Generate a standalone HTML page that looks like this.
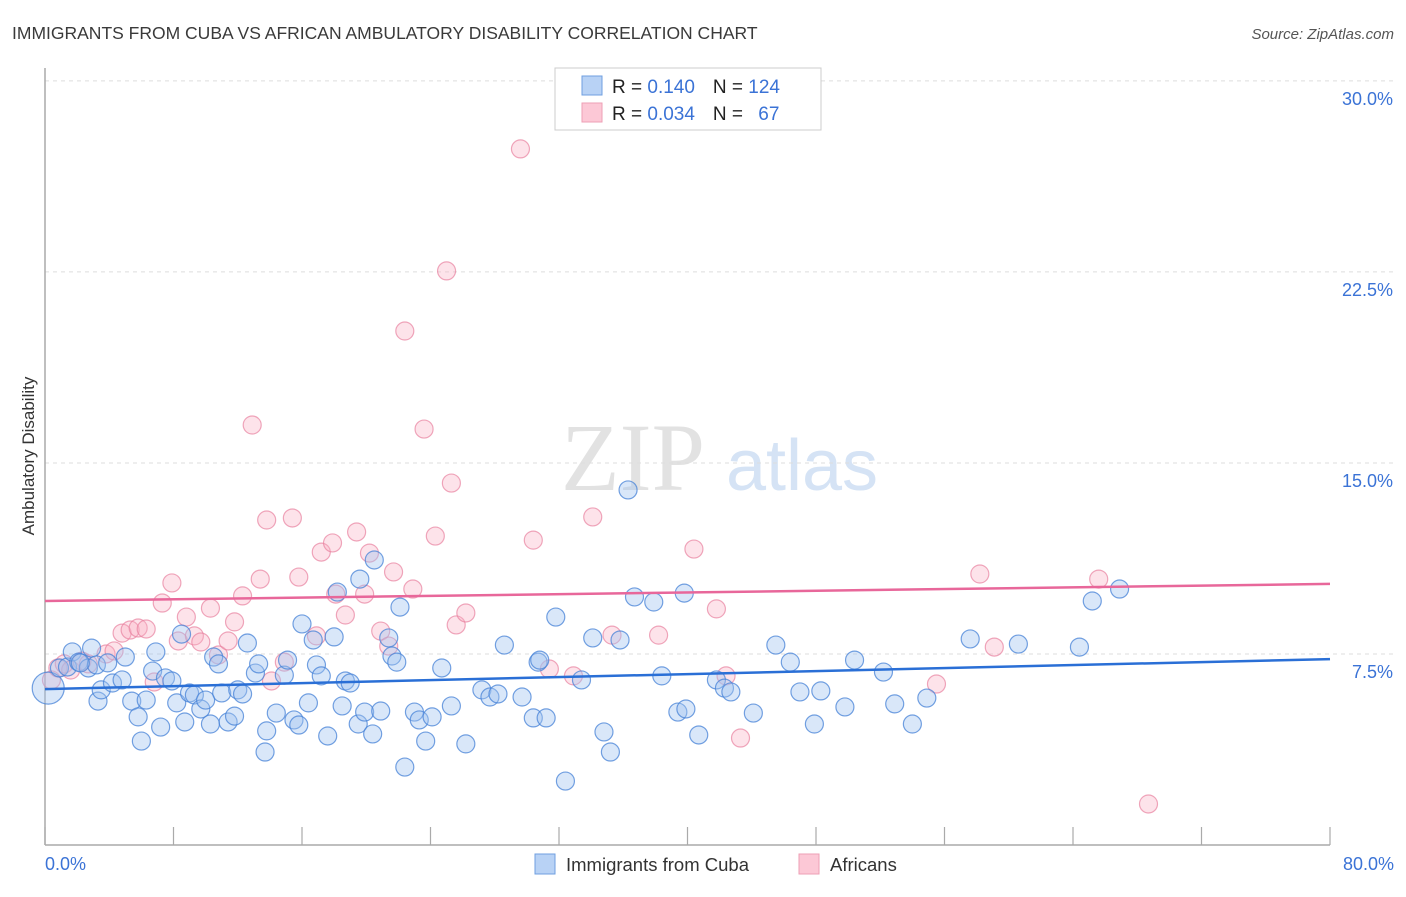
<!DOCTYPE html>
<html><head><meta charset="utf-8"><style>
body{margin:0;background:#fff;font-family:"Liberation Sans",sans-serif;}
</style></head><body>
<svg width="1406" height="892" viewBox="0 0 1406 892" xmlns="http://www.w3.org/2000/svg">
<text x="12" y="39" font-size="17.5" fill="#3a3a3a">IMMIGRANTS FROM CUBA VS AFRICAN AMBULATORY DISABILITY CORRELATION CHART</text>
<text x="1394" y="39" font-size="15" fill="#555" text-anchor="end" font-style="italic">Source: ZipAtlas.com</text>
<g>
<text x="633" y="490" font-size="96" font-family="Liberation Serif,serif" fill="#e2e2e2" text-anchor="middle">ZIP</text>
<text x="802" y="490" font-size="72" fill="#d5e3f5" text-anchor="middle">atlas</text>
</g>
<g id="grid"></g>
<g id="axes"></g>
<g id="pts"></g>
<g id="trends"></g>
<text transform="translate(34,456) rotate(-90)" font-size="17" fill="#333" text-anchor="middle">Ambulatory Disability</text>
<text x="45" y="870" font-size="18" fill="#3b73d6">0.0%</text>
<text x="1394" y="870" font-size="18" fill="#3b73d6" text-anchor="end">80.0%</text>
<g>
<rect x="555" y="68" width="266" height="62" fill="#fff" stroke="#ccc"/>
<rect x="582" y="76" width="20" height="19" fill="#b8d2f5" stroke="#6f9fe0"/>
<rect x="582" y="103" width="20" height="19" fill="#fcc8d6" stroke="#ee9fb5"/>
<text x="612" y="93" font-size="19" fill="#222">R = <tspan fill="#3b73d6"> 0.140</tspan><tspan dx="18">N = </tspan><tspan fill="#3b73d6">124</tspan></text>
<text x="612" y="120" font-size="19" fill="#222">R = <tspan fill="#3b73d6">0.034</tspan><tspan dx="18">N = </tspan><tspan fill="#3b73d6" dx="10">67</tspan></text>
</g>
<g>
<rect x="535" y="854" width="20" height="20" fill="#b8d2f5" stroke="#6f9fe0"/>
<text x="566" y="871" font-size="18.5" fill="#333">Immigrants from Cuba</text>
<rect x="799" y="854" width="20" height="20" fill="#fcc8d6" stroke="#ee9fb5"/>
<text x="830" y="871" font-size="18.5" fill="#333">Africans</text>
</g>
</svg>
<script>
const blueX=[0.2,0.9,1.4,1.7,2.1,2.7,2.9,3.2,2.2,3.9,3.3,3.5,4.2,4.8,5.0,5.4,5.8,6.0,6.3,6.7,6.9,7.2,7.5,7.9,8.2,8.5,8.7,9.0,9.3,9.7,10.0,10.3,10.5,10.8,11.0,11.4,11.8,12.0,12.3,12.6,13.1,13.3,13.8,13.7,14.4,14.9,15.1,15.5,15.8,16.0,16.4,16.7,16.9,17.2,17.6,18.0,18.2,18.5,18.7,19.0,19.5,19.6,19.9,20.4,20.5,20.9,21.4,21.6,21.9,22.1,22.4,23.0,23.3,23.7,24.1,24.7,25.3,26.2,27.2,27.7,28.2,28.6,29.7,30.4,30.7,30.8,31.2,31.8,32.4,33.4,34.1,34.8,35.2,35.8,36.3,36.7,37.9,38.4,39.4,39.9,40.7,39.8,41.8,42.3,42.7,44.1,45.5,46.4,47.0,47.9,48.3,49.8,50.4,52.2,52.9,54.0,54.9,57.6,60.6,64.4,65.2,66.9];
const blueY=[6.16,6.95,6.99,7.58,7.18,6.95,7.73,7.07,7.15,7.15,5.65,6.09,6.36,6.48,7.38,5.65,5.03,4.08,5.69,6.83,7.58,4.63,6.56,6.44,5.58,8.28,4.83,5.97,5.89,5.34,5.69,4.75,7.38,7.11,5.97,4.83,5.06,6.09,5.93,7.93,6.75,7.11,4.48,3.65,5.18,6.67,7.26,4.91,4.71,8.68,5.58,8.05,7.07,6.64,4.28,8.17,9.93,5.46,6.44,6.36,4.75,10.44,5.22,4.36,11.19,5.26,8.13,7.42,7.18,9.34,3.06,5.22,4.91,4.08,5.03,6.95,5.46,3.97,6.09,5.81,5.93,7.85,5.81,4.99,7.18,7.26,4.99,8.95,2.51,6.48,8.13,4.44,3.65,8.05,13.94,9.74,9.54,6.64,5.22,5.34,4.32,9.89,6.48,6.16,6.01,5.18,7.85,7.18,6.01,4.75,6.05,5.42,7.26,6.79,5.54,4.75,5.77,8.09,7.89,7.77,9.58,10.05];
const pinkX=[0.4,0.8,1.2,1.6,2.3,2.7,3.8,4.3,4.8,5.3,5.8,6.3,6.8,7.3,7.9,8.3,8.8,9.3,9.7,10.3,10.8,11.4,11.8,12.3,12.9,13.4,13.8,14.1,14.9,15.4,15.8,16.9,17.2,17.9,18.1,18.7,19.4,19.9,20.2,20.9,21.4,21.7,22.4,22.9,23.6,24.3,25.0,25.3,25.6,26.2,29.6,30.4,31.4,32.9,34.1,35.3,38.2,40.4,41.8,42.4,43.3,55.5,58.2,59.1,65.6,68.7];
const pinkY=[6.48,6.95,7.11,6.87,7.22,7.11,7.50,7.62,8.32,8.44,8.52,8.48,6.40,9.50,10.29,8.01,8.95,8.21,7.97,9.30,7.46,8.01,8.76,9.78,16.49,10.44,12.76,6.44,7.18,12.84,10.52,8.21,11.50,11.86,9.85,9.03,12.29,9.85,11.46,8.40,7.81,10.72,20.18,10.05,16.33,12.13,22.54,14.21,8.64,9.11,27.33,11.97,6.91,6.64,12.88,8.24,8.24,11.62,9.27,6.64,4.20,6.32,10.64,7.77,10.44,1.61];
const blueTrend=[6.12,7.30];
const pinkTrend=[9.58,10.25];
const yTicks=[7.5,15,22.5,30];
const yTickLabels=["7.5%","15.0%","22.5%","30.0%"];
const xTicks=[0,8,16,24,32,40,48,56,64,72,80];
const NS="http://www.w3.org/2000/svg";
const X0=45,X1=1330,Y0=845,PXY=25.47;
const sx=v=>X0+v*(X1-X0)/80;
const sy=v=>Y0-v*PXY;
function mk(tag,attrs,parent){const e=document.createElementNS(NS,tag);for(const k in attrs)e.setAttribute(k,attrs[k]);document.getElementById(parent).appendChild(e);return e;}
yTicks.forEach((t,i)=>{
 const l=mk('line',{x1:X0,x2:1393,y1:sy(t),y2:sy(t),stroke:'#ddd','stroke-dasharray':'4,4'},'grid');
 
 
 const tx=mk('text',{x:1393,y:sy(t)+24,'font-size':18,fill:'#3b73d6','text-anchor':'end'},'grid');
 tx.textContent=yTickLabels[i];
 
 
});
const ya=mk('line',{x1:X0,x2:X0,y1:68,y2:Y0,stroke:'#aaa','stroke-width':1.5},'axes');


const xa=mk('line',{x1:X0,x2:X1,y1:Y0,y2:Y0,stroke:'#aaa','stroke-width':1.5},'axes');


xTicks.forEach(t=>{
 const l=mk('line',{x1:sx(t),x2:sx(t),y1:Y0-18,y2:Y0,stroke:'#aaa','stroke-width':1.2},'axes');
 
 
});
function pts(xs,ys,fill,stroke,name){
 xs.forEach((x,i)=>{
  const r=(i===0&&name==='cuba-point')?16:9;
  const c=mk('circle',{cx:sx(x),cy:sy(ys[i]),r:r,fill:fill,stroke:stroke,'stroke-width':1.2},'pts');
  
  
 });
}
pts(pinkX,pinkY,'rgba(248,175,196,0.35)','rgba(232,130,160,0.7)','africans-point');
pts(blueX,blueY,'rgba(160,196,240,0.4)','rgba(70,130,215,0.75)','cuba-point');
const bt=mk('line',{x1:sx(0),x2:sx(80),y1:sy(blueTrend[0]),y2:sy(blueTrend[1]),stroke:'#2a6fd6','stroke-width':2.5},'trends');


const pt=mk('line',{x1:sx(0),x2:sx(80),y1:sy(pinkTrend[0]),y2:sy(pinkTrend[1]),stroke:'#e8679a','stroke-width':2.5},'trends');


</script>
</body></html>
